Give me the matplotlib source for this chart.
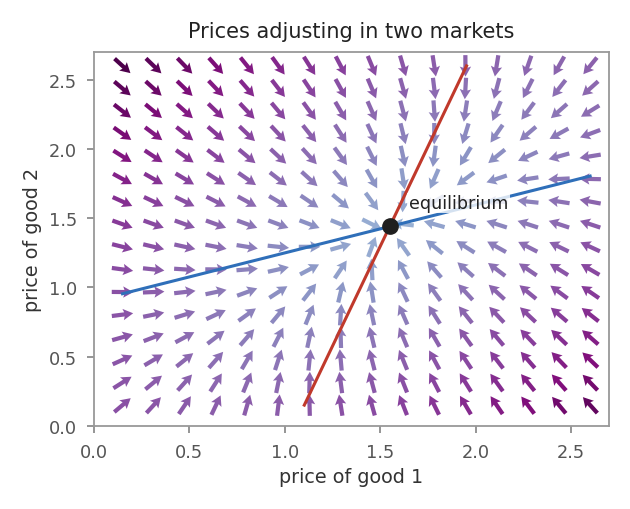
import numpy as np
import matplotlib
matplotlib.use("Agg")
import matplotlib.pyplot as plt
from matplotlib.colors import Normalize

# ---- data: linear excess demand e(p) = b - A p ----
A = np.array([[2.45, -0.85],
              [-0.85, 2.45]])
p_star = np.array([1.55, 1.44])          # equilibrium prices
b = A @ p_star

grid_min, grid_max, grid_n = 0.15, 2.6, 16
p1_vals = np.linspace(grid_min, grid_max, grid_n)
p2_vals = np.linspace(grid_min, grid_max, grid_n)

title = "Prices adjusting in two markets"
xlabel = "price of good 1"
ylabel = "price of good 2"
ticks = [0.0, 0.5, 1.0, 1.5, 2.0, 2.5]

# ---- compute field ----
P1, P2 = np.meshgrid(p1_vals, p2_vals)
E1 = b[0] - (A[0, 0] * P1 + A[0, 1] * P2)
E2 = b[1] - (A[1, 0] * P1 + A[1, 1] * P2)
mag = np.hypot(E1, E2)
U, V = E1 / mag, E2 / mag

fig = plt.figure(figsize=(6.3, 5.1), dpi=100)
ax = fig.add_axes([0.149, 0.163, 0.818, 0.733])

norm = Normalize(vmin=-4.0, vmax=mag.max())
ax.quiver(P1, P2, U, V, mag, cmap="BuPu", norm=norm, pivot="mid",
          units="inches", width=0.042, scale=1 / 0.215, scale_units="inches",
          headwidth=2.7, headlength=2.4, headaxislength=2.1, zorder=2)

# nullclines
yy = np.array([grid_min, grid_max])
xx_red = (b[0] - A[0, 1] * yy) / A[0, 0]
xx = np.array([grid_min, grid_max])
yy_blue = (b[1] - A[1, 0] * xx) / A[1, 1]
ax.plot(xx, yy_blue, color="#2f6fb9", lw=2.2, zorder=3)
ax.plot(xx_red, yy, color="#c0392b", lw=2.2, zorder=3)

ax.plot([p_star[0]], [p_star[1]], "o", color="#1f1f1f", ms=11, zorder=5)
ax.text(p_star[0] + 0.1, p_star[1] + 0.17, "equilibrium", fontsize=12.6,
        color="#222222", va="center", ha="left", zorder=4,
        bbox=dict(facecolor="white", edgecolor="none", alpha=0.8, pad=1))

ax.set_xlim(0, 2.7)
ax.set_ylim(0, 2.7)
ax.set_xticks(ticks)
ax.set_yticks(ticks)
ax.set_xticklabels([f"{t:.1f}" for t in ticks])
ax.set_yticklabels([f"{t:.1f}" for t in ticks])
for s in ax.spines.values():
    s.set_color("#999999")
    s.set_linewidth(1.3)
ax.tick_params(colors="#8c8c8c", labelcolor="#555555", labelsize=12.8,
               length=5, width=1.3, pad=7)
ax.set_xlabel(xlabel, fontsize=13.8, color="#333333", labelpad=5)
ax.set_ylabel(ylabel, fontsize=13.8, color="#333333", labelpad=5)
ax.set_title(title, fontsize=15, color="#222222", pad=11)

fig.savefig("out.png", dpi=100)
